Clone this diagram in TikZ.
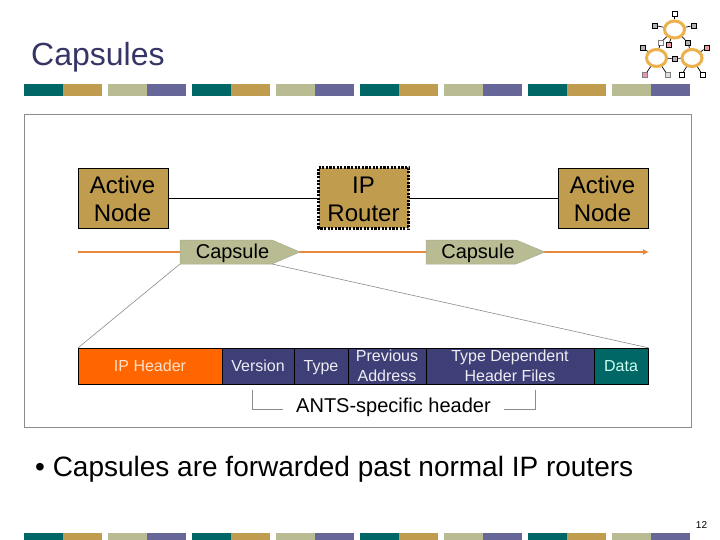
\documentclass[tikz,border=0pt]{standalone}
\usepackage{fontspec}
\setmainfont{Liberation Sans}
\usetikzlibrary{arrows.meta,shapes.geometric}
\definecolor{teal}{HTML}{006666}
\definecolor{gold}{HTML}{C09C4E}
\definecolor{sage}{HTML}{B9BB93}
\definecolor{purp}{HTML}{666699}
\definecolor{dpurp}{HTML}{3F3F78}
\definecolor{orng}{HTML}{FF6600}
\definecolor{line}{HTML}{E8883A}
\definecolor{frame}{HTML}{8C8C8C}
\definecolor{lring}{HTML}{EDB04A}
\definecolor{tealtxt}{HTML}{CCFFEE}
\tikzset{
 x=1pt,y=-1pt,
 goldbox/.style={draw=black,fill=gold,line width=.8pt,minimum width=90pt,minimum height=60pt,inner sep=0pt},
 goldtext/.style={align=center,font=\fontsize{24}{28}\selectfont,inner sep=0pt},
 cell/.style={draw=black,line width=.7pt,minimum height=35.7pt,inner sep=0pt},
 celltext/.style={align=center,inner sep=0pt,text=white!88!purp,font=\fontsize{16}{20}\selectfont,anchor=base},
 caplabel/.style={font=\fontsize{20}{24}\selectfont,inner sep=0pt,anchor=base},
 capshape/.style={fill=sage,draw=sage!80!gray,line width=.5pt},
 pointer/.style={draw=frame,line width=.6pt},
 ring/.style={draw=lring,fill=white,line width=3pt,ellipse,minimum width=20pt,minimum height=17pt,inner sep=0pt},
 sq/.style={draw=black,line width=.8pt,minimum size=5pt,inner sep=0pt},
 lk/.style={draw=black,line width=.7pt},
}
\newcommand{\stripes}[2]{%
 \foreach \i in {0,1,2,3}{%
  \fill[teal] (24+168*\i,#1) rectangle (63+168*\i,#2);
  \fill[gold] (63+168*\i,#1) rectangle (102+168*\i,#2);
  \fill[sage] (108+168*\i,#1) rectangle (147+168*\i,#2);
  \fill[purp] (147+168*\i,#1) rectangle (186+168*\i,#2);
 }}
\begin{document}
\begin{tikzpicture}
\useasboundingbox (0,0) rectangle (720,540);
\fill[white] (0,0) rectangle (720,540);
\node[anchor=base west,inner sep=0pt,text=dpurp!85!black,font=\fontsize{32}{36}\selectfont] (title) at (31,66) {Capsules};
\stripes{84}{96}
\stripes{533}{540}
\node[draw=frame,line width=.8pt,minimum width=667pt,minimum height=313pt,anchor=north west,inner sep=0pt] (panel) at (24,114) {};
% logo
\node[sq,fill=white] (a1) at (674.5,14) {};
\node[sq,fill=gray!60] (a2) at (655,25.5) {};
\node[sq,fill=gray!60] (a3) at (693.5,25.5) {};
\node[sq,draw=gray,fill=white] (a4) at (660.5,42.5) {};
\node[sq,fill=pink!80!purple] (a5) at (668.5,45) {};
\node[sq,fill=gray!60] (a6) at (688,42.5) {};
\node[sq,fill=gray!60] (a7) at (642.5,47.5) {};
\node[sq,fill=pink!80!purple] (a8) at (706.5,47.5) {};
\node[sq,fill=gray!60] (a9) at (674.5,58.5) {};
\node[sq,draw=gray,fill=purple!40] (a10) at (645,75) {};
\node[sq,draw=gray,fill=gray!25] (a11) at (667.5,75) {};
\node[sq,fill=white] (a12) at (681.5,75) {};
\node[sq,fill=white] (a13) at (702.5,75) {};
\node[ring] (r1) at (674.5,29.5) {};
\node[ring] (r2) at (656.5,58) {};
\node[ring] (r3) at (692,58) {};
\draw[lk] (r1) -- (a1);
\draw[lk] (r1) -- (a2);
\draw[lk] (r1) -- (a3);
\draw[lk] (r1) -- (a4);
\draw[lk] (r1) -- (a5);
\draw[lk] (r1) -- (a6);
\draw[lk] (a4) -- (r2);
\draw[lk] (a6) -- (r3);
\draw[lk] (r2) -- (a7);
\draw[lk] (r3) -- (a8);
\draw[lk] (r2) -- (a9);
\draw[lk] (r3) -- (a9);
\draw[lk] (r2) -- (a10);
\draw[lk] (r2) -- (a11);
\draw[lk] (r3) -- (a12);
\draw[lk] (r3) -- (a13);
% top row
\node[goldbox] (n1) at (123.3,198.2) {};
\node[goldbox,draw=none,minimum width=90pt,minimum height=60pt] (n2) at (363.5,198.2) {};
\draw[black,line width=3pt,dash pattern=on 2.2pt off 1.4pt] (n2.south west) rectangle (n2.north east);
\node[goldbox] (n3) at (603,198.2) {};
\node[goldtext] (t1) at (122.5,199) {Active\\Node};
\node[goldtext] (t2) at (363.5,199) {IP\\Router};
\node[goldtext] (t3) at (602.5,199) {Active\\Node};
\draw[black,line width=.8pt] (n1) -- (n2);
\draw[black,line width=.8pt] (n2) -- (n3);
% orange line
\coordinate (ls) at (78,252);
\coordinate (le) at (649,252);
\draw[line,line width=1.3pt,-{Latex[length=6pt,width=6pt]}] (ls) -- (le);
% capsules
\coordinate (c1a) at (180,240);
\coordinate (c1b) at (272,240);
\coordinate (c1c) at (300,252);
\coordinate (c1d) at (272,264);
\coordinate (c1e) at (180,264);
\coordinate (c2a) at (426,240);
\coordinate (c2b) at (516,240);
\coordinate (c2c) at (545,252);
\coordinate (c2d) at (516,264);
\coordinate (c2e) at (426,264);
\filldraw[capshape] (c1a) -- (c1b) -- (c1c) -- (c1d) -- (c1e) -- cycle;
\filldraw[capshape] (c2a) -- (c2b) -- (c2c) -- (c2d) -- (c2e) -- cycle;
\node[caplabel] (cl1) at (232.5,258.3) {Capsule};
\node[caplabel] (cl2) at (478,258.3) {Capsule};
% header bar
\node[cell,fill=orng,minimum width=144pt] (h1) at (150.3,366.1) {};
\node[cell,fill=dpurp,minimum width=72pt] (h2) at (258.3,366.1) {};
\node[cell,fill=dpurp,minimum width=54pt] (h3) at (321.3,366.1) {};
\node[cell,fill=dpurp,minimum width=78.4pt] (h4) at (387.5,366.1) {};
\node[cell,fill=dpurp,minimum width=167.6pt] (h5) at (510.5,366.1) {};
\node[cell,fill=teal,minimum width=54pt] (h6) at (621.3,366.1) {};
\node[celltext,text=white!80!orng] (ht1) at (150,371.7) {IP Header};
\node[celltext] (ht2) at (258,371.7) {Version};
\node[celltext] (ht3) at (321,371.7) {Type};
\node[celltext,anchor=center] (ht4) at (387,366) {Previous\\Address};
\node[celltext,anchor=center] (ht5) at (510,366) {Type Dependent\\Header Files};
\node[celltext,text=tealtxt] (ht6) at (621,371.7) {Data};
% zoom lines
\draw[pointer] (c1e) -- (h1.north west);
\draw[pointer] (c1d) -- (h6.north east);
% ANTS bracket
\node[inner sep=0pt,anchor=base,font=\fontsize{20}{24}\selectfont] (ants) at (393.5,412.7) {ANTS-specific header};
\coordinate (b1) at (252,390);
\coordinate (b1m) at (252,409);
\coordinate (b1e) at (283,409);
\coordinate (b2) at (535,390);
\coordinate (b2m) at (535,409);
\coordinate (b2e) at (504,409);
\draw[pointer] (b1) -- (b1m) -- (b1e);
\draw[pointer] (b2) -- (b2m) -- (b2e);
% bullet
\node[anchor=base west,inner sep=0pt,font=\fontsize{28}{32}\selectfont] (bul) at (35,476) {• Capsules are forwarded past normal IP routers};
\node[inner sep=0pt,anchor=base,font=\fontsize{10}{12}\selectfont] (pg) at (701.5,528) {12};
\end{tikzpicture}
\end{document}
